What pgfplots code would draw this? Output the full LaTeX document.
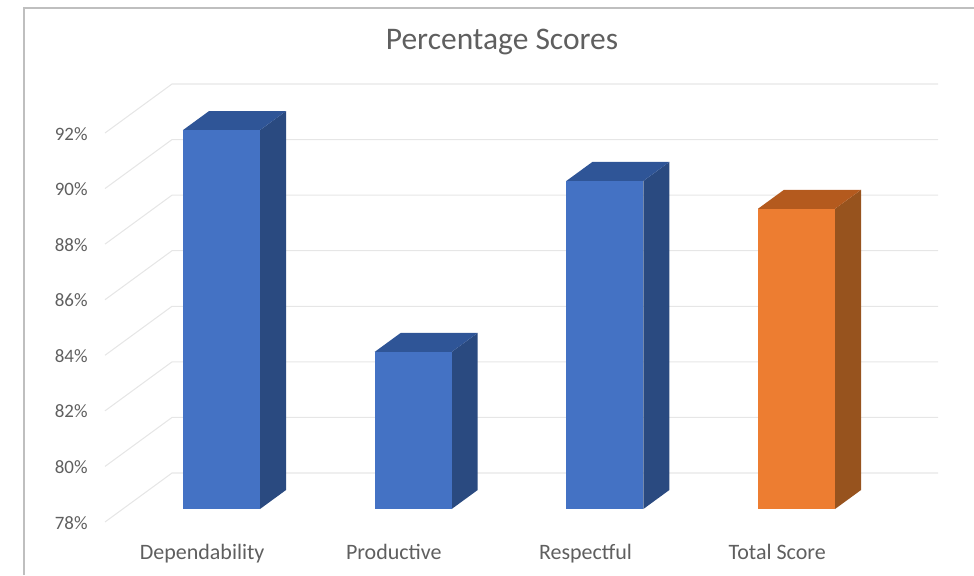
\documentclass[border=0pt]{standalone}
\usepackage{fontspec}
\setmainfont{Carlito}
\usepackage{pgfplots}
\pgfplotsset{compat=1.18}
\definecolor{labelgray}{HTML}{5F5F5F}
\definecolor{framegray}{HTML}{BFBFBF}
\definecolor{wallgray}{HTML}{E6E6E6}
\definecolor{bluefront}{HTML}{4472C4}
\definecolor{bluetop}{HTML}{2F5597}
\definecolor{blueside}{HTML}{2A4A80}
\definecolor{orangefront}{HTML}{ED7D31}
\definecolor{orangetop}{HTML}{B45A1E}
\definecolor{orangeside}{HTML}{97531E}
\begin{document}
\begin{tikzpicture}
\useasboundingbox (0,0) rectangle ({974*0.75pt},{575*0.75pt});
% outer frame of the chart area
\draw[framegray, line width=1.9pt] ({24*0.75pt},0) -- ({24*0.75pt},{567*0.75pt}) -- ({974*0.75pt},{567*0.75pt});
\node[text=labelgray, font=\fontsize{23.6}{28}\selectfont] at ({502*0.75pt},{533*0.75pt}) {Percentage Scores};

% front plane: percentage scale, side wall and back wall lines
\begin{axis}[
  at={({105*0.75pt},{53*0.75pt})}, anchor=south west,
  scale only axis, width={833*0.75pt}, height={438*0.75pt},
  xmin=0, xmax=833, ymin=78, ymax=93.763,
  clip=false,
  axis line style={draw=none}, major tick length=0pt,
  xtick=\empty,
  ytick={78,80,82,84,86,88,90,92},
  yticklabel={\pgfmathprintnumber{\tick}\%},
  /pgf/number format/assume math mode=true,
  yticklabel style={text=labelgray, font=\fontsize{14.2}{16}\selectfont, xshift=-9.5pt, yshift=-0.5pt},
]
\addplot[wallgray, line width=0.8pt] coordinates {(0,78) (67,79.763) (833,79.763)};
\addplot[wallgray, line width=0.8pt] coordinates {(0,80) (67,81.763) (833,81.763)};
\addplot[wallgray, line width=0.8pt] coordinates {(0,82) (67,83.763) (833,83.763)};
\addplot[wallgray, line width=0.8pt] coordinates {(0,84) (67,85.763) (833,85.763)};
\addplot[wallgray, line width=0.8pt] coordinates {(0,86) (67,87.763) (833,87.763)};
\addplot[wallgray, line width=0.8pt] coordinates {(0,88) (67,89.763) (833,89.763)};
\addplot[wallgray, line width=0.8pt] coordinates {(0,90) (67,91.763) (833,91.763)};
\addplot[wallgray, line width=0.8pt] coordinates {(0,92) (67,93.763) (833,93.763)};
\end{axis}

% bar plane: front faces as bars, with the side and top faces behind them
\begin{axis}[
  at={({29.83*0.75pt},{66*0.75pt})}, anchor=south west,
  scale only axis, width={958.35*0.75pt}, height={500.4*0.75pt},
  xmin=-1, xmax=4, ymin=78, ymax=96,
  axis line style={draw=none}, major tick length=0pt,
  ytick=\empty,
  xtick={0,1,2,3},
  xticklabels={Dependability,Productive,Respectful,Total Score},
  xticklabel style={text=labelgray, font=\fontsize{16.5}{18}\selectfont, xshift=-14.5pt, yshift=-23pt},
]
% Dependability
\addplot[fill=blueside, draw=none] coordinates {(0.2009,78) (0.3366,78.683) (0.3366,92.313) (0.2009,91.63)} -- cycle;
\addplot[fill=bluetop, draw=none] coordinates {(-0.2009,91.63) (0.2009,91.63) (0.3366,92.313) (-0.0652,92.313)} -- cycle;
\addplot[ybar, bar width=57.75pt, bar shift=0pt, fill=bluefront, draw=none] coordinates {(0,91.63)};
% Productive
\addplot[fill=blueside, draw=none] coordinates {(1.2009,78) (1.3366,78.683) (1.3366,84.333) (1.2009,83.65)} -- cycle;
\addplot[fill=bluetop, draw=none] coordinates {(0.7991,83.65) (1.2009,83.65) (1.3366,84.333) (0.9348,84.333)} -- cycle;
\addplot[ybar, bar width=57.75pt, bar shift=0pt, fill=bluefront, draw=none] coordinates {(1,83.65)};
% Respectful
\addplot[fill=blueside, draw=none] coordinates {(2.2009,78) (2.3366,78.683) (2.3366,90.483) (2.2009,89.8)} -- cycle;
\addplot[fill=bluetop, draw=none] coordinates {(1.7991,89.8) (2.2009,89.8) (2.3366,90.483) (1.9348,90.483)} -- cycle;
\addplot[ybar, bar width=57.75pt, bar shift=0pt, fill=bluefront, draw=none] coordinates {(2,89.8)};
% Total Score
\addplot[fill=orangeside, draw=none] coordinates {(3.2009,78) (3.3366,78.683) (3.3366,89.483) (3.2009,88.8)} -- cycle;
\addplot[fill=orangetop, draw=none] coordinates {(2.7991,88.8) (3.2009,88.8) (3.3366,89.483) (2.9348,89.483)} -- cycle;
\addplot[ybar, bar width=57.75pt, bar shift=0pt, fill=orangefront, draw=none] coordinates {(3,88.8)};
\end{axis}
\end{tikzpicture}
\end{document}
